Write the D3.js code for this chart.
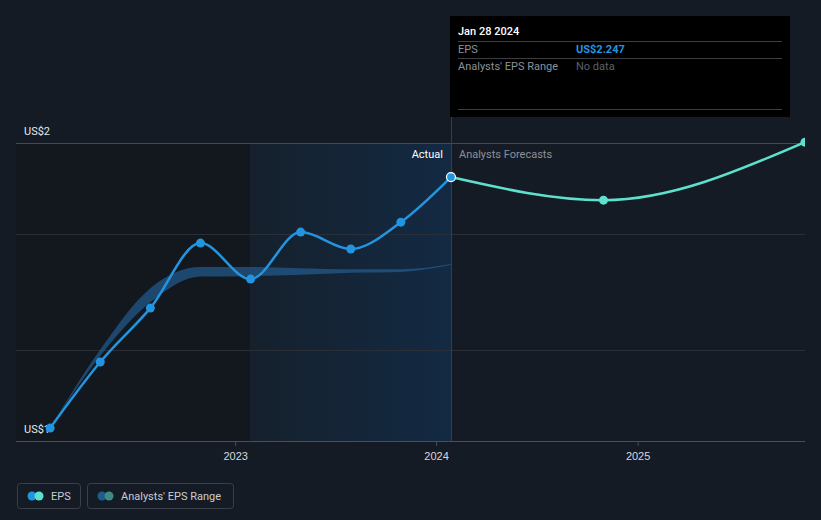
<!DOCTYPE html>
<html>
<head>
<meta charset="utf-8">
<script src="https://cdn.jsdelivr.net/npm/d3@7"></script>
<style>
  html, body { margin: 0; padding: 0; background: #151b24; }
  svg { display: block; font-family: Roboto, "Noto Sans", sans-serif; }
</style>
</head>
<body>
<svg id="chart" width="821" height="520"></svg>
<script>
// ---- data ----
const actualDates = ["2022-01-30","2022-05-01","2022-07-31","2022-10-30","2023-01-29","2023-04-30","2023-07-30","2023-10-29","2024-01-28"];
const actualEps   = [1.061, 1.373, 1.628, 1.935, 1.765, 1.987, 1.907, 2.034, 2.247];
const forecastDates = ["2024-01-28","2024-10-31","2025-11-01"];
const forecastEps   = [2.247, 2.138, 2.412];
const rangeDates = ["2022-01-30","2022-05-01","2022-07-31","2022-10-30","2023-01-29","2023-04-30","2023-07-30","2023-10-29","2024-01-28"];
const rangeLow   = [1.061, 1.402, 1.655, 1.777, 1.779, 1.785, 1.795, 1.799, 1.831];
const rangeHigh  = [1.061, 1.432, 1.722, 1.822, 1.822, 1.816, 1.811, 1.811, 1.836];
const gridValues = [1, 1.43, 1.978, 2.408];
const yTickLabels = [{v: 1, label: "US$1"}, {v: 2.408, label: "US$2"}];
const xTickYears = ["2023","2024","2025"];
const domainStart = "2021-11-29", domainEnd = "2025-11-01";
const pastStart = "2023-01-28", nowDate = "2024-01-28";

const parse = d3.timeParse("%Y-%m-%d");
const svg = d3.select("#chart");

const x = d3.scaleTime().domain([parse(domainStart), parse(domainEnd)]).range([16, 805]);
const y = d3.scaleLinear().domain([1, 2.408]).range([441, 143]);

const defs = svg.append("defs");
defs.append("clipPath").attr("id", "plotClip")
  .append("rect").attr("x", 16).attr("y", 0).attr("width", 789).attr("height", 441);
const grad = defs.append("linearGradient").attr("id", "hl").attr("x1", 0).attr("x2", 1).attr("y1", 0).attr("y2", 0);
grad.append("stop").attr("offset", "0%").attr("stop-color", "#15202c");
grad.append("stop").attr("offset", "100%").attr("stop-color", "#132a43");

// past shaded region
svg.append("rect")
  .attr("x", x(parse(domainStart))).attr("y", 143)
  .attr("width", x(parse(pastStart)) - x(parse(domainStart)))
  .attr("height", 441 - 143).attr("fill", "#13171e");
// highlight last year
svg.append("rect")
  .attr("x", x(parse(pastStart))).attr("y", 143)
  .attr("width", x(parse(nowDate)) - x(parse(pastStart)))
  .attr("height", 441 - 143).attr("fill", "url(#hl)");

// gridlines
svg.append("g").selectAll("line").data(gridValues).join("line")
  .attr("x1", 16).attr("x2", 805)
  .attr("y1", d => Math.round(y(d)) + 0.5).attr("y2", d => Math.round(y(d)) + 0.5)
  .attr("stroke", (d, i) => i === gridValues.length - 1 ? "#454a52" : (i === 0 ? "#4a4f56" : "#2a2f37"))
  .attr("stroke-width", 1);

// now line
svg.append("line")
  .attr("x1", Math.round(x(parse(nowDate))) + 0.5).attr("x2", Math.round(x(parse(nowDate))) + 0.5)
  .attr("y1", 16).attr("y2", 441)
  .attr("stroke", "#1e4468").attr("stroke-width", 1);

// x axis
const xAxis = d3.axisBottom(x)
  .tickValues(xTickYears.map(yv => parse(yv + "-01-01")))
  .tickFormat(d3.timeFormat("%Y"))
  .tickSize(5).tickPadding(6);
const gx = svg.append("g").attr("transform", "translate(0,441)").call(xAxis);
gx.select(".domain").remove();
gx.selectAll(".tick line").attr("stroke", "#4a4f56");
gx.selectAll(".tick text").attr("fill", "#d5d8dd").attr("font-size", 11);

// y labels
svg.append("g").selectAll("text").data(yTickLabels).join("text")
  .attr("x", 24).attr("y", d => y(d.v) - 8)
  .attr("fill", "#e6e8eb").attr("font-size", 11)
  .text(d => d.label);

const plot = svg.append("g").attr("clip-path", "url(#plotClip)");

// range band
const band = rangeDates.map((d, i) => ({date: parse(d), lo: rangeLow[i], hi: rangeHigh[i]}));
plot.append("path").datum(band)
  .attr("d", d3.area().x(d => x(d.date)).y0(d => y(d.lo)).y1(d => y(d.hi)).curve(d3.curveMonotoneX))
  .attr("fill", "#2468a0").attr("fill-opacity", 0.6);

// forecast line
const fc = forecastDates.map((d, i) => ({date: parse(d), v: forecastEps[i]}));
plot.append("path").datum(fc)
  .attr("d", d3.line().x(d => x(d.date)).y(d => y(d.v)).curve(d3.curveMonotoneX))
  .attr("fill", "none").attr("stroke", "#5ee0cf").attr("stroke-width", 2.5);
plot.append("g").selectAll("circle").data(fc.slice(1)).join("circle")
  .attr("cx", d => x(d.date)).attr("cy", d => y(d.v)).attr("r", 4.5)
  .attr("fill", "#5ee0cf");

// actual line
const act = actualDates.map((d, i) => ({date: parse(d), v: actualEps[i]}));
plot.append("path").datum(act)
  .attr("d", d3.line().x(d => x(d.date)).y(d => y(d.v)).curve(d3.curveMonotoneX))
  .attr("fill", "none").attr("stroke", "#2394df").attr("stroke-width", 2.5);
plot.append("g").selectAll("circle").data(act).join("circle")
  .attr("cx", d => x(d.date)).attr("cy", d => y(d.v))
  .attr("r", 4.5)
  .attr("fill", "#2394df")
  .attr("stroke", (d, i) => i === act.length - 1 ? "#ffffff" : "none")
  .attr("stroke-width", 1.2);

// Actual / Forecast labels
const nx = x(parse(nowDate));
svg.append("text").attr("x", nx - 8).attr("y", 158).attr("text-anchor", "end")
  .attr("fill", "#ffffff").attr("font-size", 11).text("Actual");
svg.append("text").attr("x", nx + 8).attr("y", 158)
  .attr("fill", "#8b9199").attr("font-size", 11).text("Analysts Forecasts");

// tooltip
const tt = svg.append("g");
tt.append("rect").attr("x", 450).attr("y", 16).attr("width", 340).attr("height", 101).attr("fill", "#000000");
[41.5, 58.5, 109.5].forEach(ly => tt.append("line").attr("x1", 458).attr("x2", 782)
  .attr("y1", ly).attr("y2", ly).attr("stroke", "#3a3d42").attr("stroke-width", 1));
tt.append("text").attr("x", 458).attr("y", 35).attr("fill", "#ffffff").attr("font-size", 11)
  .attr("font-weight", 500).text("Jan 28 2024");
tt.append("text").attr("x", 458).attr("y", 53).attr("fill", "#8b9199").attr("font-size", 11).text("EPS");
tt.append("text").attr("x", 576).attr("y", 53).attr("fill", "#2394df").attr("font-size", 11)
  .attr("font-weight", "bold").text("US$" + d3.format(".3f")(actualEps[actualEps.length - 1]));
tt.append("text").attr("x", 458).attr("y", 70).attr("fill", "#8b9199").attr("font-size", 11).text("Analysts' EPS Range");
tt.append("text").attr("x", 576).attr("y", 70).attr("fill", "#5c6168").attr("font-size", 11).text("No data");

// legend
const legend = [
  {label: "EPS", c1: "#2394df", c2: "#5ee0cf", x: 17, w: 63},
  {label: "Analysts' EPS Range", c1: "#1f5d8c", c2: "#3e8a88", x: 87, w: 146}
];
const lg = svg.append("g").selectAll("g").data(legend).join("g")
  .attr("transform", d => `translate(${d.x},483)`);
lg.append("rect").attr("x", 0.5).attr("y", 0.5).attr("width", d => d.w).attr("height", 25).attr("rx", 3)
  .attr("fill", "none").attr("stroke", "#3a3f47");
lg.append("circle").attr("cx", 15).attr("cy", 13).attr("r", 4.5).attr("fill", d => d.c1);
lg.append("circle").attr("cx", 22).attr("cy", 13).attr("r", 4.5).attr("fill", d => d.c2);
lg.append("text").attr("x", 34).attr("y", 17).attr("fill", "#c9cdd3").attr("font-size", 11).text(d => d.label);
</script>
</body>
</html>
